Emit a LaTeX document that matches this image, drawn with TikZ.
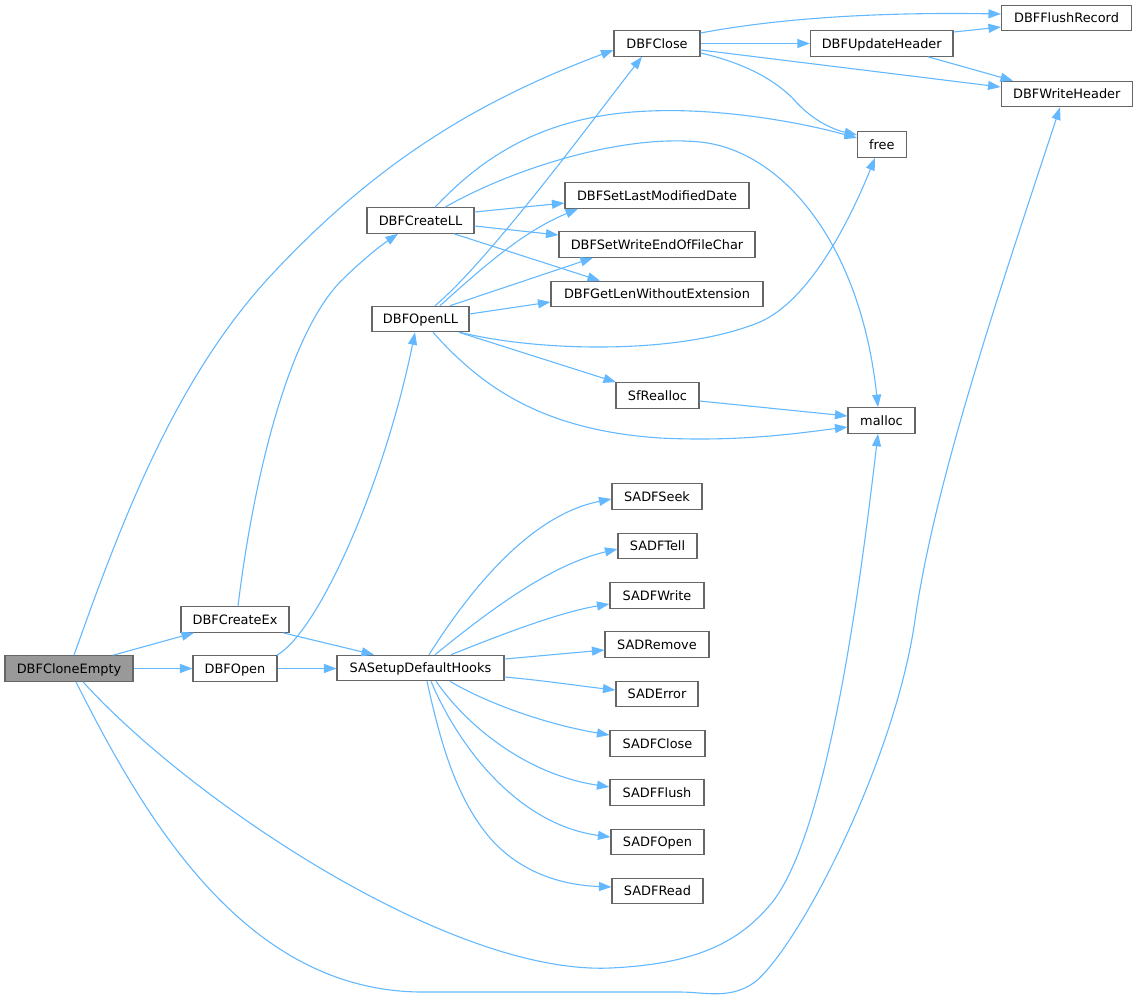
\documentclass[tikz,border=0pt]{standalone}
\usepackage{fontspec}
\setmainfont{DejaVu Sans}
\usetikzlibrary{arrows.meta}
\definecolor{edgeblue}{HTML}{63B8FF}
\definecolor{boxgray}{HTML}{666666}
\definecolor{rootgray}{HTML}{999999}
\begin{document}
\begin{tikzpicture}[x=1pt,y=-1pt,
  box/.style={draw=boxgray, line width=1.1pt, fill=white, inner sep=0pt,
    minimum height=25.5pt, text height=9.3pt, text depth=0pt,
    font=\fontsize{12.9}{15}\selectfont, anchor=center},
  rootbox/.style={box, fill=rootgray},
  edge/.style={draw=edgeblue, line width=1.1pt, -{Triangle[length=12.5pt,width=9pt]}},
]
\useasboundingbox (0,0) rectangle (1137,1001);

% nodes
\node[rootbox, minimum width=128] (root) at (69,668.5) {DBFCloneEmpty};
\node[box, minimum width=108] (cex) at (235,619.5) {DBFCreateEx};
\node[box, minimum width=84] (open) at (235,668.5) {DBFOpen};
\node[box, minimum width=167] (hooks) at (420.5,668) {SASetupDefaultHooks};
\node[box, minimum width=107] (cll) at (420.5,220.5) {DBFCreateLL};
\node[box, minimum width=97] (oll) at (420.5,319) {DBFOpenLL};
\node[box, minimum width=86] (close) at (657,43.5) {DBFClose};
\node[box, minimum width=184] (slm) at (657,195.5) {DBFSetLastModifiedDate};
\node[box, minimum width=196] (swe) at (657,244.5) {DBFSetWriteEndOfFileChar};
\node[box, minimum width=212] (glw) at (657,294) {DBFGetLenWithoutExtension};
\node[box, minimum width=83] (sfr) at (657.5,395.5) {SfRealloc};
\node[box, minimum width=90] (seek) at (657,496.5) {SADFSeek};
\node[box, minimum width=79] (tell) at (657.5,546) {SADFTell};
\node[box, minimum width=94] (write) at (657,595.5) {SADFWrite};
\node[box, minimum width=104] (remove) at (657,644.5) {SADRemove};
\node[box, minimum width=82] (error) at (657,694) {SADError};
\node[box, minimum width=95] (sclose) at (657.5,743.5) {SADFClose};
\node[box, minimum width=94] (flush) at (657,792.5) {SADFFlush};
\node[box, minimum width=93] (sopen) at (657.5,842) {SADFOpen};
\node[box, minimum width=91] (read) at (657.5,891) {SADFRead};
\node[box, minimum width=142.5] (uh) at (881.75,43.5) {DBFUpdateHeader};
\node[box, minimum width=48.5] (free) at (881.8,144.5) {free};
\node[box, minimum width=67] (malloc) at (881.5,420.5) {malloc};
\node[box, minimum width=130] (flushrec) at (1066.5,18) {DBFFlushRecord};
\node[box, minimum width=131.5] (wh) at (1066.8,94) {DBFWriteHeader};

% edges from DBFCloneEmpty
\draw[edge] (root.north -| 74,0) .. controls (122,520) and (177,373) .. (277,269)
  .. controls (380,160) and (480,100) .. (close.west |- 0,50);
\draw[edge] (root.north -| 113,0) -- (cex.south -| 194,0);
\draw[edge] (root.east) -- (open.west);
\draw[edge] (root.south -| 83,0) .. controls (190,800) and (450,975) .. (610,968)
  .. controls (700,964) and (740,940) .. (770,905)
  .. controls (830,835) and (863,560) .. (malloc.south -| 878,0);
\draw[edge] (root.south -| 76,0) .. controls (150,830) and (250,990) .. (420,992)
  -- (680,992) .. controls (705,992) and (730,1000) .. (755,982)
  .. controls (800,945) and (895,760) .. (915,620)
  .. controls (935,480) and (1000,290) .. (wh.south -| 1060,0);

% DBFCreateEx
\draw[edge] (cex.north -| 238,0) .. controls (252,490) and (285,340) .. (340,282)
  .. controls (360,262) and (380,246) .. (cll.south -| 398,0);
\draw[edge] (cex.south -| 283,0) -- (hooks.north -| 374,0);

% DBFOpen
\draw[edge] (open.east) -- (hooks.west |- open.east);
\draw[edge] (open.north -| 277,0) .. controls (320,630) and (385,480) .. (oll.south -| 415,0);

% DBFCreateLL
\draw[edge] (cll.north -| 435,0) .. controls (480,160) and (540,115) .. (650,111)
  .. controls (720,108) and (800,122) .. (free.west |- 0,138);
\draw[edge] (cll.north -| 445,0) .. controls (510,170) and (620,134) .. (700,142)
  .. controls (780,150) and (860,240) .. (malloc.north -| 878,0);
\draw[edge] (cll.east |- 0,212) -- (slm.west |- 0,203);
\draw[edge] (cll.east |- 0,226) -- (swe.west |- 0,235);
\draw[edge] (cll.south -| 454,0) -- (glw.north -| 600,0);

% DBFOpenLL
\draw[edge] (oll.north -| 435,0) .. controls (490,260) and (600,110) .. (close.south -| 642,0);
\draw[edge] (oll.north -| 440,0) .. controls (482,268) and (522,232) .. (slm.south -| 578,0);
\draw[edge] (oll.north -| 450,0) -- (swe.south -| 593,0);
\draw[edge] (oll.east |- 0,314) -- (glw.west |- 0,302);
\draw[edge] (oll.south -| 460,0) .. controls (540,352) and (680,355) .. (760,322)
  .. controls (810,300) and (850,220) .. (free.south -| 875,0);
\draw[edge] (oll.south -| 459,0) -- (sfr.north -| 616,0);
\draw[edge] (oll.south -| 433,0) .. controls (480,385) and (540,430) .. (660,438)
  .. controls (740,442) and (800,433) .. (malloc.west |- 0,427);

% SfRealloc
\draw[edge] (sfr.east |- 0,401) -- (malloc.west |- 0,416);

% DBFClose
\draw[edge] (close.east |- 0,33) .. controls (780,18) and (880,12) .. (flushrec.west |- 0,14);
\draw[edge] (close.east) -- (uh.west);
\draw[edge] (close.east |- 0,50) -- (wh.west |- 0,87);
\draw[edge] (close.east |- 0,53) .. controls (740,62) and (775,78) .. (797,103)
  .. controls (815,122) and (835,130) .. (free.west |- 0,135);

% DBFUpdateHeader
\draw[edge] (uh.east |- 0,32) -- (flushrec.west |- 0,27);
\draw[edge] (uh.south -| 928,0) -- (wh.north -| 1013,0);

% SASetupDefaultHooks
\draw[edge] (hooks.north -| 429,0) .. controls (470,590) and (530,515) .. (seek.west |- 0,499);
\draw[edge] (hooks.north -| 435,0) .. controls (490,610) and (550,565) .. (tell.west |- 0,549);
\draw[edge] (hooks.north -| 451,0) .. controls (500,635) and (560,612) .. (write.west |- 0,604);
\draw[edge] (hooks.east |- 0,659) -- (remove.west |- 0,650);
\draw[edge] (hooks.east |- 0,677) .. controls (540,680) and (580,686) .. (error.west |- 0,690);
\draw[edge] (hooks.south -| 450,0) .. controls (490,705) and (550,725) .. (sclose.west |- 0,735);
\draw[edge] (hooks.south -| 436,0) .. controls (470,730) and (530,775) .. (flush.west |- 0,787);
\draw[edge] (hooks.south -| 431,0) .. controls (460,750) and (520,825) .. (sopen.west |- 0,837);
\draw[edge] (hooks.south -| 427,0) .. controls (442,750) and (458,800) .. (490,838)
  .. controls (520,872) and (560,885) .. (read.west |- 0,887);
\end{tikzpicture}
\end{document}
